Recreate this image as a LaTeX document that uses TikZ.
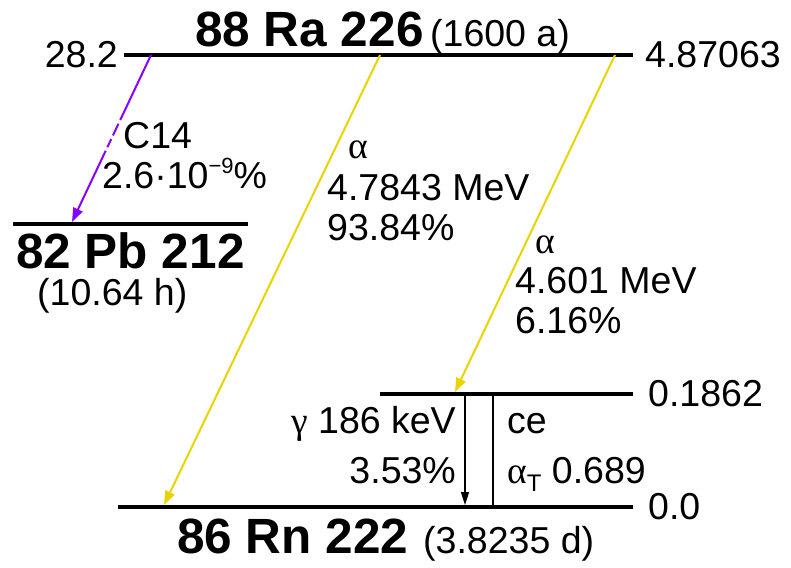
\documentclass[tikz,border=0pt]{standalone}
\usepackage{fontspec}
\setmainfont{Liberation Sans}
\newfontfamily\greekfont{Liberation Serif}
\usetikzlibrary{arrows.meta}
\definecolor{alphayellow}{RGB}{232,212,0}
\definecolor{clusterviolet}{RGB}{136,0,255}
\newcommand\lvtext{\fontsize{37.5}{42}\selectfont}
\newcommand\nuctext{\fontsize{49.5}{56}\selectfont\bfseries}
\newcommand\grk[1]{{\greekfont #1}}

\begin{document}
\begin{tikzpicture}[x=1pt,y=-1pt,
  level/.style={line width=3.5pt},
  lbl/.style={inner sep=0pt,font=\lvtext},
  nuc/.style={inner sep=0pt,font=\nuctext},
  alphaarrow/.style={alphayellow,line width=2pt,-{Triangle[length=14pt,width=10pt]}}]
\useasboundingbox (0,0) rectangle (791,567);
% levels
\draw[level] (124,55) -- (633,55);
\draw[level] (13,224) -- (248,224);
\draw[level] (380,394) -- (633,394);
\draw[level] (118,507) -- (633,507);
% level energies
\node[lbl,anchor=east] (raE) at (118,55) {28.2};
\node[lbl,anchor=west] (raQ) at (645,55) {4.87063};
\node[lbl,anchor=west] (exE) at (648,394) {0.1862};
\node[lbl,anchor=west] (rnE) at (648,507) {0.0};
% nuclides
\node[nuc,anchor=base west] (ra) at (195,47) {88 Ra 226};
\node[lbl,anchor=base west] (raT) at (430,47) {(1600 a)};
\node[nuc,anchor=base west] (pb) at (16,268) {82 Pb 212};
\node[lbl,anchor=base west] (pbT) at (37,305) {(10.64 h)};
\node[nuc,anchor=base west] (rn) at (177,553) {86 Rn 222};
\node[lbl,anchor=base west] (rnT) at (423,553) {(3.8235 d)};
% end points on the levels
\coordinate (raC) at (151,55);
\coordinate (pbC) at (72,222);
\coordinate (raA1) at (380,55);
\coordinate (rnA1) at (164,505);
\coordinate (raA2) at (615,55);
\coordinate (exA2) at (455,392);
\coordinate (exG) at (465,396);
\coordinate (rnG) at (465,505);
\coordinate (exCE) at (493,396);
\coordinate (rnCE) at (493,505);
% cluster decay
\draw[clusterviolet,line width=2pt,dash pattern=on 72pt off 4pt on 13pt off 4pt on 9pt off 4pt on 300pt,
  -{Triangle[length=14pt,width=10pt]}] (raC) -- (pbC);
\node[lbl,anchor=base west] (c14) at (123,148) {C14};
\node[lbl,anchor=base west] (c14p) at (102,188)
  {2.6·10\raisebox{15pt}{\fontsize{22}{22}\selectfont −9}\%};
% alpha decays
\draw[alphaarrow] (raA1) -- (rnA1);
\draw[alphaarrow] (raA2) -- (exA2);
\node[lbl,anchor=base west] (a1) at (348,158) {\grk{α}};
\node[lbl,anchor=base west] (a1E) at (327,200) {4.7843 MeV};
\node[lbl,anchor=base west] (a1P) at (327,240) {93.84\%};
\node[lbl,anchor=base west] (a2) at (535,253) {\grk{α}};
\node[lbl,anchor=base west] (a2E) at (515,293) {4.601 MeV};
\node[lbl,anchor=base west] (a2P) at (515,333) {6.16\%};
% gamma and conversion electrons
\draw[line width=1.5pt,-{Triangle[length=13pt,width=8pt]}] (exG) -- (rnG);
\draw[line width=1.8pt] (exCE) -- (rnCE);
\node[lbl,anchor=base east] (g) at (456,433) {\grk{γ} 186 keV};
\node[lbl,anchor=base east] (gP) at (456,483) {3.53\%};
\node[lbl,anchor=base west] (ce) at (507,433) {ce};
\node[lbl,anchor=base west] (ceA) at (507,483)
  {\grk{α}\raisebox{-8pt}{\fontsize{24}{24}\selectfont T} 0.689};
\end{tikzpicture}
\end{document}
